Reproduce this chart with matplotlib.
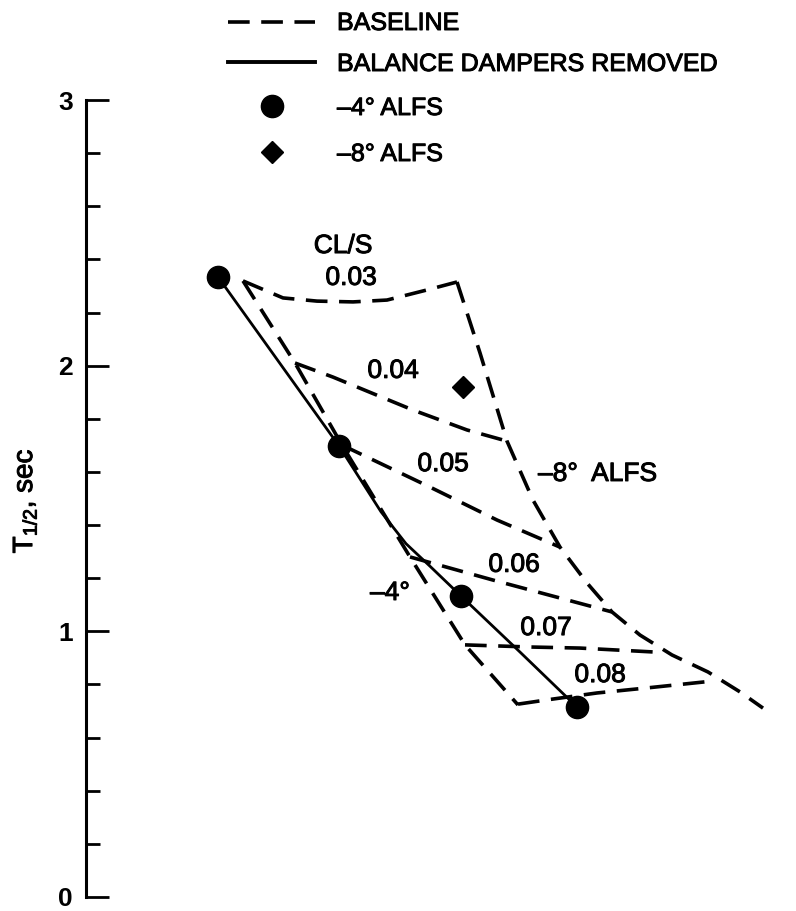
import matplotlib
matplotlib.use("Agg")
import matplotlib.pyplot as plt
import matplotlib.patheffects as pe
from matplotlib.lines import Line2D
from matplotlib.ticker import MultipleLocator

plt.rcParams['font.family'] = ['Liberation Sans', 'DejaVu Sans']
plt.rcParams['mathtext.fontset'] = 'custom'
plt.rcParams['mathtext.rm'] = 'Liberation Sans'

# Carpet abscissa (arbitrary offset units) vs. half-amplitude time T1/2, sec

# Baseline carpet: constant CL/S lines, from -4 deg ALFS edge to -8 deg ALFS edge
cls_values = [0.03, 0.04, 0.05, 0.06, 0.07, 0.08]
cls003_x = [1.57, 1.97, 2.31, 2.67, 3.01, 3.41, 3.71]
cls003_t = [2.319, 2.255, 2.243, 2.240, 2.247, 2.285, 2.315]
cls004_x = [2.09, 2.47, 3.27, 3.81, 4.21]
cls004_t = [2.010, 1.957, 1.833, 1.758, 1.716]
cls005_x = [2.56, 3.44, 4.11, 4.74]
cls005_t = [1.701, 1.543, 1.419, 1.317]
cls006_x = [3.24, 4.07, 5.26]
cls006_t = [1.280, 1.193, 1.073]
cls007_x = [3.79, 4.44, 4.94, 5.69]
cls007_t = [0.949, 0.941, 0.937, 0.922]
cls008_x = [4.32, 4.61, 5.11, 5.61, 6.27]
cls008_t = [0.726, 0.742, 0.768, 0.787, 0.813]

# Baseline carpet: constant ALFS edges
alfs4_x = [1.57, 2.09, 2.56, 3.24, 3.79, 4.32]
alfs4_t = [2.319, 2.010, 1.701, 1.280, 0.949, 0.723]
alfs8_x = [3.71, 3.94, 4.21, 4.47, 4.74, 5.01, 5.26, 5.54, 5.86, 6.22, 6.54, 6.77]
alfs8_t = [2.315, 2.048, 1.716, 1.494, 1.317, 1.182, 1.073, 0.986, 0.911, 0.847, 0.772, 0.711]

# Balance dampers removed, -4 deg ALFS
removed_x = [1.32, 2.53, 2.95, 3.20, 3.44, 3.75, 4.34, 4.91]
removed_t = [2.334, 1.698, 1.450, 1.330, 1.245, 1.133, 0.922, 0.715]
removed_pts_x = [1.32, 2.53, 3.75, 4.91]
removed_pts_t = [2.334, 1.698, 1.133, 0.715]

# Balance dampers removed, -8 deg ALFS
removed8_x = [3.77]
removed8_t = [1.920]

W, H = 796, 911
fig = plt.figure(figsize=(W / 100, H / 100), dpi=100)
ax = fig.add_axes([86 / W, 14 / H, (W - 86) / W, (897 - 100) / H])
ax.set_xlim(0, 7.10)
ax.set_ylim(0, 3)

dash_kw = dict(color='black', lw=2.6, dashes=(6.0, 3.2), solid_capstyle='butt')
heavy = [pe.withStroke(linewidth=0.7, foreground='black')]

cls_x = [cls003_x, cls004_x, cls005_x, cls006_x, cls007_x, cls008_x]
cls_t = [cls003_t, cls004_t, cls005_t, cls006_t, cls007_t, cls008_t]
for xs, ts in zip(cls_x, cls_t):
    ax.plot(xs, ts, **dash_kw)
ax.plot(alfs4_x, alfs4_t, **dash_kw)
ax.plot(alfs8_x, alfs8_t, **dash_kw)

ax.plot(removed_x, removed_t, color='black', lw=2.0)
ax.plot(removed_pts_x, removed_pts_t, 'o', color='black', ms=16)
ax.plot(removed8_x, removed8_t, 'D', color='black', ms=11.5)

# Carpet annotations
fs = 19
label_x = [2.65, 3.07, 3.57, 4.28, 4.60, 5.14]
label_t = [2.304, 1.954, 1.603, 1.224, 0.986, 0.809]
for v, lx, lt in zip(cls_values, label_x, label_t):
    ax.text(lx, lt, f"{v:.2f}", ha='center', va='baseline', fontsize=fs,
            path_effects=heavy)
ax.text(2.57, 2.424, "CL/S", ha='center', va='baseline', fontsize=fs, path_effects=heavy)
ax.text(4.52, 1.566, "\u20138\u00b0  ALFS", ha='left', va='baseline', fontsize=fs,
        path_effects=heavy)
ax.text(3.04, 1.118, "\u20134\u00b0", ha='center', va='baseline', fontsize=fs,
        path_effects=heavy)

# Axes styling: only a left axis with inward ticks
for side in ('top', 'right', 'bottom'):
    ax.spines[side].set_visible(False)
ax.spines['left'].set_linewidth(2.2)
ax.set_xticks([])
ax.yaxis.set_major_locator(MultipleLocator(1))
ax.yaxis.set_minor_locator(MultipleLocator(0.2))
ax.tick_params(axis='y', which='major', direction='in', length=16.5, width=2.0,
               pad=9.5, labelsize=19)
ax.tick_params(axis='y', which='minor', direction='in', length=10, width=2.0)
for lab in ax.get_yticklabels():
    lab.set_fontweight('bold')
ax.set_clip_on(False)

ax.text(-0.0859, 0.497, r"T$_{\mathregular{1/2}}$, sec", transform=ax.transAxes,
        rotation=90, ha='center', va='center', fontsize=20, path_effects=heavy)

# Key
def fx(px):
    return px / W


def fy(py):
    return 1 - py / H


fig.add_artist(Line2D([fx(228), fx(315)], [fy(22), fy(22)], transform=fig.transFigure,
                      **dash_kw))
fig.add_artist(Line2D([fx(228), fx(315)], [fy(62), fy(62)], transform=fig.transFigure,
                      color='black', lw=2.8))
fig.add_artist(Line2D([fx(272)], [fy(106)], transform=fig.transFigure, marker='o',
                      color='black', ms=16, ls='none'))
fig.add_artist(Line2D([fx(272)], [fy(152)], transform=fig.transFigure, marker='D',
                      color='black', ms=11.5, ls='none'))
key_fs = 18
fig.text(fx(337), fy(30), "BASELINE", va='baseline', fontsize=key_fs, path_effects=heavy)
fig.text(fx(337), fy(71), "BALANCE DAMPERS REMOVED", va='baseline', fontsize=key_fs,
         path_effects=heavy)
fig.text(fx(337), fy(115), "\u20134\u00b0 ALFS", va='baseline', fontsize=key_fs,
         path_effects=heavy)
fig.text(fx(337), fy(161), "\u20138\u00b0 ALFS", va='baseline', fontsize=key_fs,
         path_effects=heavy)

fig.savefig("out.png", dpi=100)
